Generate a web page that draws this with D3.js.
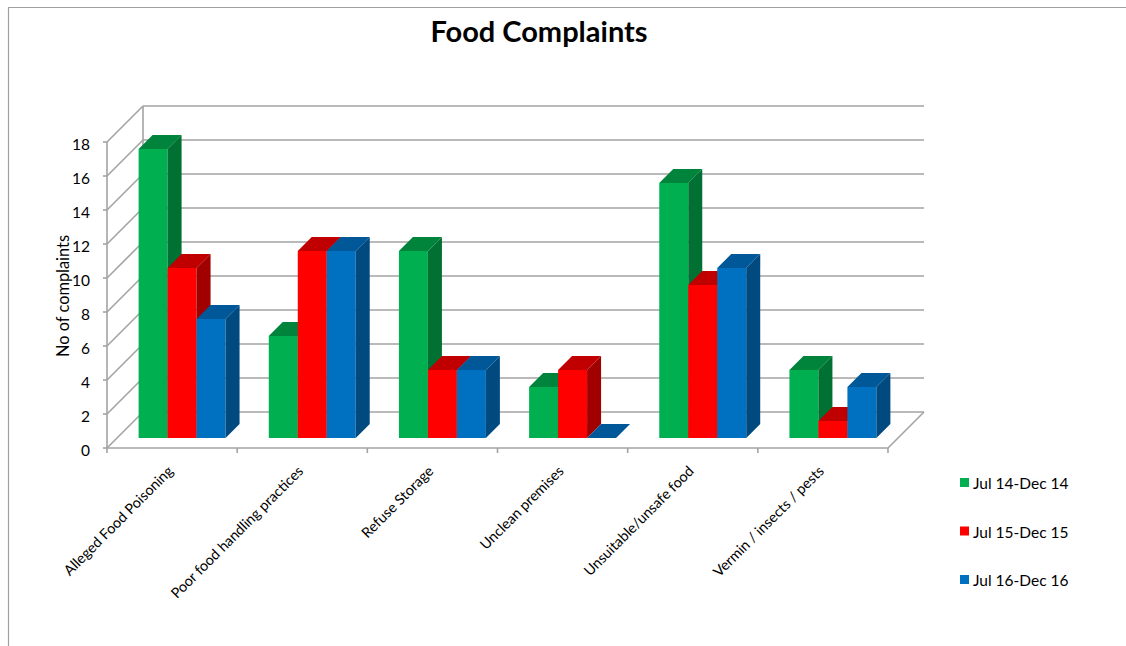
<!DOCTYPE html>
<html>
<head>
<meta charset="utf-8">
<script src="https://cdn.jsdelivr.net/npm/d3@7"></script>
<style>
  html, body { margin: 0; padding: 0; background: #fff; }
  svg { display: block; }
  text { font-family: Lato, "Open Sans", sans-serif; fill: #000; }
</style>
</head>
<body>
<svg id="chart" width="1126" height="646"></svg>
<script>
// ---- data ----
const categories = ["Alleged Food Poisoning", "Poor food handling practices", "Refuse Storage",
                    "Unclean premises", "Unsuitable/unsafe food", "Vermin / insects / pests"];
const seriesNames = ["Jul 14-Dec 14", "Jul 15-Dec 15", "Jul 16-Dec 16"];
const jul14 = [17, 6, 11, 3, 15, 4];
const jul15 = [10, 11, 4, 4, 9, 1];
const jul16 = [7, 11, 4, 0, 10, 3];
const yTicks = [0, 2, 4, 6, 8, 10, 12, 14, 16, 18];
const chartTitle = "Food Complaints";
const yTitle = "No of complaints";

const seriesValues = [jul14, jul15, jul16];
const frontColors = ["#00B050", "#FF0000", "#0070C0"];
const sideColors  = ["#007033", "#A00000", "#004A7F"];
const topColors   = ["#00843C", "#C00000", "#005898"];

// ---- layout ----
const svg = d3.select("#chart");
const X0 = 107, X1 = 888, Y0 = 448, D = 36;
const barFront = 10, barBack = 24;

const x = d3.scaleBand().domain(categories).range([X0, X1]);
const gap = x.bandwidth() * 0.166;
const xs = d3.scaleBand().domain(seriesNames).range([gap, x.bandwidth() - gap]);
const y = d3.scaleLinear().domain([0, 18]).range([Y0, Y0 - 18 * 17]);

// projection: (screen x at front, value, depth) -> screen point
const P = (sx, v, d) => [sx + d, y(v) - d];
const line = d3.line();

// border
svg.append("path")
  .attr("d", "M8.5,646 L8.5,7.5 L1126,7.5")
  .attr("fill", "none").attr("stroke", "#a0a0a0").attr("stroke-width", 1.2);

// title
svg.append("text").attr("x", 539).attr("y", 42)
  .attr("text-anchor", "middle").attr("font-weight", "bold").attr("font-size", 29)
  .text(chartTitle);

const grid = svg.append("g").attr("fill", "none").attr("stroke", "#a3a3a3").attr("stroke-width", 1.6);
// back wall gridlines and side wall diagonals
yTicks.forEach(v => {
  grid.append("path").attr("d", line([P(X0, v, D), P(X1, v, D)]));
  grid.append("path").attr("d", line([P(X0, v, 0), P(X0, v, D)]));
});
// back wall left edge, front vertical axis
grid.append("path").attr("d", line([P(X0, 0, D), P(X0, 18, D)]));
grid.append("path").attr("d", line([P(X0, 0, 0), P(X0, 18, 0)]));
// floor front and right edges
grid.append("path").attr("d", line([P(X0, 0, 0), P(X1, 0, 0)]));
grid.append("path").attr("d", line([P(X1, 0, 0), P(X1, 0, D)]));
// y ticks
yTicks.forEach(v => {
  grid.append("path").attr("d", line([[X0 - 4, y(v)], [X0, y(v)]]));
});
// category ticks
x.domain().concat([null]).forEach((c, i) => {
  const tx = X0 + i * x.step();
  grid.append("path").attr("d", line([[tx, Y0], [tx, Y0 + 5]]));
});

// y tick labels
svg.append("g").selectAll("text").data(yTicks).join("text")
  .attr("x", 90).attr("y", d => y(d) + 2)
  .attr("text-anchor", "end").attr("dominant-baseline", "central")
  .attr("font-size", 15.5)
  .text(d => d);

// y title
svg.append("text")
  .attr("transform", "translate(62,296) rotate(-90)")
  .attr("text-anchor", "middle").attr("dominant-baseline", "central")
  .attr("font-size", 16.4)
  .text(yTitle);

// bars
const bars = svg.append("g");
categories.forEach((c, ci) => {
  seriesNames.forEach((s, si) => {
    const v = seriesValues[si][ci];
    const xl = x(c) + xs(s), xr = xl + xs.bandwidth();
    const g = bars.append("g");
    if (v > 0) {
      // front
      g.append("path").attr("fill", frontColors[si])
        .attr("d", line([P(xl, 0, barFront), P(xr, 0, barFront), P(xr, v, barFront), P(xl, v, barFront)]) + "Z");
      // side
      g.append("path").attr("fill", sideColors[si])
        .attr("d", line([P(xr, 0, barFront), P(xr, 0, barBack), P(xr, v, barBack), P(xr, v, barFront)]) + "Z");
    }
    // top
    g.append("path").attr("fill", topColors[si])
      .attr("d", line([P(xl, v, barFront), P(xr, v, barFront), P(xr, v, barBack), P(xl, v, barBack)]) + "Z");
  });
});

// category labels
svg.append("g").selectAll("text").data(categories).join("text")
  .attr("transform", d => `translate(${x(d) + x.bandwidth() / 2 + 2},${Y0 + 24}) rotate(-45)`)
  .attr("text-anchor", "end")
  .attr("font-size", 14.4)
  .text(d => d);

// legend
const legend = svg.append("g");
seriesNames.forEach((s, i) => {
  const ly = 483 + i * 48.5;
  legend.append("rect").attr("x", 960).attr("y", ly - 5).attr("width", 9).attr("height", 9).attr("fill", frontColors[i]);
  legend.append("text").attr("x", 973).attr("y", ly).attr("dominant-baseline", "central")
    .attr("font-size", 15.5).text(s);
});
</script>
</body>
</html>
